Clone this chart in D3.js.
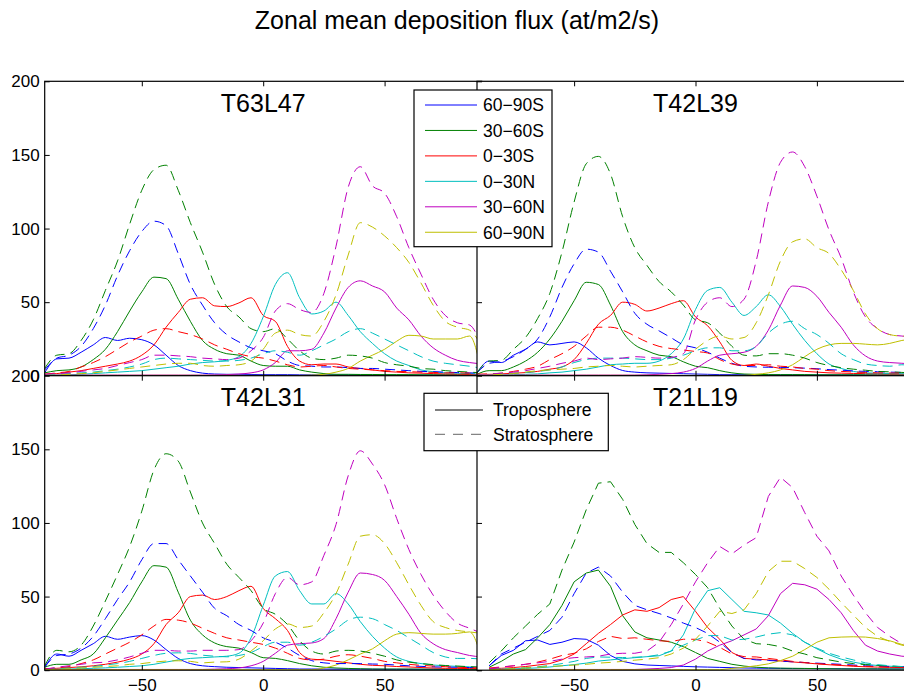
<!DOCTYPE html>
<html>
<head>
<meta charset="utf-8">
<script src="https://cdn.jsdelivr.net/npm/d3@7"></script>
<style>
  body { margin: 0; background: #fff; }
  text { font-family: "Liberation Sans", Arial, Helvetica, sans-serif; }
</style>
</head>
<body>
<svg id="chart" width="904" height="694"></svg>
<script>
// Latitude grid (degrees) shared by every series
const lat = [-90,-85,-80,-75,-70,-65,-60,-55,-50,-45,-40,-35,-30,-25,-20,-15,-10,-5,0,5,10,15,20,25,30,35,40,45,50,55,60,65,70,75,80,85,90];

const regionLabels = ["60\u221290S","30\u221260S","0\u221230S","0\u221230N","30\u221260N","60\u221290N"];
const regionColors = ["#0000ff","#008000","#ff0000","#00bfbf","#bf00bf","#bfbf00"];
const layerLabels = ["Troposphere","Stratosphere"];
const panelTitles = ["T63L47","T42L39","T42L31","T21L19"];
const xTicks = [-50, 0, 50];
const yTicks = [0, 50, 100, 150, 200];
const mainTitle = "Zonal mean deposition flux (at/m2/s)";

// Rows follow regionLabels order: 60-90S, 30-60S, 0-30S, 0-30N, 30-60N, 60-90N
const t63Tropo = [
  [2,11.5,12,16,21,26,24,25.5,24.5,21,14,7,3.5,1.8,1.2,1,1,0.9, 0.8, 0.8,0.8,0.7,0.7,0.7,0.6,0.6,0.6,0.6,0.5,0.5,0.5,0.5,0.5,0.5,0.5,0.5,0.5],
  [2,3.5,4,6,11,18,30,44,57,67,66,52,37,24,18,15,14,10, 7, 6.5,6.5,4,2.5,1.5,1,1,0.9,0.9,0.8,0.8,0.8,0.7,0.7,0.7,0.7,0.7,0.6],
  [1,1.5,2.5,3.5,5,6.5,8,10,14,21,33,43,52,53,47.5,47,49.5,53, 41, 37,20,10,7.5,8,8,6,5,4,3,2.5,2,1.8,1.5,1.3,1.2,1,0.8],
  [0.5,0.5,0.7,1,1.5,2,2.5,3,3.5,4.5,5.5,6.5,8,9,9.5,10.5,13,22, 40, 62,70,53,42,44,50,41,30,22,15,10,7,4,2.8,2,1.8,1.5,1],
  [0.5,0.5,0.5,0.5,0.5,0.5,0.5,0.5,0.5,0.5,0.5,0.5,0.5,0.5,0.6,0.8,1.2,2, 4, 9,17,17,18,29,46,60,64.5,61,57,46,38,27,19,14,10.5,9,8],
  [0.3,0.3,0.3,0.3,0.3,0.3,0.3,0.3,0.3,0.3,0.3,0.3,0.3,0.3,0.3,0.3,0.3,0.3, 0.3, 0.3,0.3,0.3,0.5,1,2.5,5,10,14,18,23.5,27.5,27,25,25,25,27,2]
];
const t63Strat = [
  [4,12,14,20,32,48,68,85,98,105,102,83,62,48,36,28,23,19, 17, 15,10,7,6.5,6,6,5.5,5,5,4.5,4,3.5,3,2.8,2.5,2.2,2,1.8],
  [5,14,15,24,38,58,78,103,126,140,143,126,104,84,62,47,40,32, 30, 32,25,17,12,11,12,14,13.5,12,9,7.5,6.5,5,4.5,3.5,3,2.5,2],
  [1,2,3,6,9,13,18,23,27,31,32,30,28,25,21,18,15,13, 12, 10,7.5,6,6.5,7,6,5,4.5,4,3.5,3,2.8,2.5,2.3,2,2,1.8,1.5],
  [0.5,1,1.5,2,2.5,3.5,4.5,6,8,11,12,11.5,11,10.5,10,10,10.5,12, 15, 17,16,14,17,21,25,30,32,29,25,21,17,13,10,8.5,7.5,6.5,5],
  [1,1.5,2,3,4,5,7,9,11,14,14,13.5,13,12,11.5,11,12,17, 26, 44,49,45,43,56,88,128,142,129,124,108,87,69,52,41,36,34.5,20],
  [0.3,0.5,1,1.5,2,3,4,5,6,7,8,8.5,8.5,7,6.5,7,7.5,10, 18, 29,31,28,27,37,55,82,104,101,95,87,77,63,48,37,33,31,20]
];

const t42l39Tropo = [
  [2,10,9,14,18,23,21,22,23,19,12,7,3.6,2.5,2,1.8,1.6,1.4, 1.2, 1,0.8,0.8,0.8,0.7,0.7,0.7,0.7,0.6,0.6,0.6,0.6,0.6,0.5,0.5,0.5,0.5,0.5],
  [1,3.5,3.5,6,10,16,25,37,51,63.5,62,48,30,21,17,14,13,9.5, 6.5, 5.5,3.5,2,1.2,1,0.8,0.8,0.8,0.8,0.7,0.7,0.7,0.7,0.7,0.6,0.6,0.6,0.6],
  [1,1,1.3,1.7,2.2,3,4.5,6,11,22,35,41,50,48.5,44,46,49,51, 40, 34,23,10.5,7,8,6.5,5,4,3,2.5,2,1.8,1.6,1.5,1.4,1.3,1.2,1],
  [0.5,0.5,0.6,0.8,1,1.3,2,2.5,3.5,4.5,6,7.5,8,8.5,8.5,10,15,25, 45, 58,60,50,41,47,55,47,35,24,15,8,5,3,2,1.8,1.6,1.4,1.3],
  [0.5,0.5,0.5,0.5,0.5,0.5,0.5,0.5,0.5,0.5,0.5,0.5,0.5,0.5,0.7,1,1.5,2.5, 5, 10,14,15,16,20,31,48,61,60,54,43,33,21,13.5,10,9,8.5,8],
  [0.3,0.3,0.3,0.3,0.3,0.3,0.3,0.3,0.3,0.3,0.3,0.3,0.3,0.3,0.3,0.3,0.3,0.3, 0.3, 0.3,0.3,0.3,0.3,1,2,4,7.5,13,18,21,22,22,21.5,21,22,24,25]
];
const t42l39Strat = [
  [2,8.5,9.7,13,18,25,40,60,76,86,84,71,57,42.5,35,30.5,25.8,21, 19, 16,12,8.5,6.5,6,5.8,5.7,5.5,5.2,4.8,4.2,3.8,3.3,3,2.8,2.5,2.3,2],
  [2,10,10.5,18,26,39,56,84,118,144,149,137,108,87,75,64,57,48, 38, 36,29,20,14,13.5,15,15,14,12,9,7,5.5,4.5,3.8,3,2.7,2.3,2],
  [1,1.3,1.8,3,4.5,6.5,11,15,20,27,33,33,31,27,23,20,18.5,17.5, 16.5, 15.5,11,8,7,7,7.5,6.5,6,5,4.5,3.5,3,2.6,2.3,2,1.9,1.8,1.7],
  [0.5,1,1.3,1.7,2.2,3,4,6,9,11,12,12,12,11.5,11,11,12,14, 17, 19,19,17,17,20,29,35,37,32,28,22,15,11,8,7,6.5,7.5,7],
  [0.5,1,1.8,2.5,3.5,5,6.5,8.5,10,12,11,11.5,12,13,12.5,12,12.5,15, 38, 50,53,47,52,78,118,145,152,142,122,99,80,57,40,32,28,27,26],
  [0.3,0.5,1,1.5,2.5,3.5,4,4.5,5,6,6.5,7,6.5,6,6.5,7,7.5,11, 18, 24,27,25,26,36,55,78,91,93,87,83,72,58,42,32,28,27,27]
];

const t42l31Tropo = [
  [2,11,9.5,13.5,18,23,21,22.5,23.5,20.5,14,8,4.5,3,2.4,2,1.8,1.6, 1.4, 1.2,1,0.8,0.8,0.8,0.7,0.7,0.7,0.7,0.6,0.6,0.6,0.6,0.6,0.5,0.5,0.5,0.5],
  [2,4,4,7,11,22,34,46,60,71,70,53,34,24,18.5,16,15,12, 8.5, 8,6.5,4.5,3,2,1.5,1.2,1,0.8,0.8,0.8,0.8,0.7,0.7,0.7,0.7,0.6,0.6],
  [1,1.3,1.8,2.3,3,4,5.5,7.5,11,18,31,39,50,51,48,50,54,57, 42, 35,27,12,7.5,7,6,5,4,3.3,3,2.5,2.2,1.8,1.5,1.3,1.2,1.1,1],
  [0.5,0.6,0.8,1,1.3,1.6,2,2.5,3,4,5.5,7,8,8.5,9,9.5,11.5,22, 44, 64,67,54,45,45,52,45,33,23,15,9,6,4.5,3.5,3,2.6,2.3,2],
  [0.5,0.5,0.5,0.5,0.5,0.5,0.5,0.5,0.5,0.5,0.5,0.5,0.5,0.5,0.7,1,1.5,3, 6, 11.5,17,18,18.5,21.5,35,53,66,65,61,50,38,25,18,14,12,10,9],
  [0.3,0.3,0.3,0.3,0.3,0.3,0.3,0.3,0.3,0.3,0.3,0.3,0.3,0.3,0.3,0.3,0.3,0.3, 0.3, 0.3,0.3,0.3,0.3,1.5,3.5,7,11,14.5,20,24.5,25.5,25,24.5,24.5,25,26,8]
];
const t42l31Strat = [
  [2,10,11,15,23,35,48,60,75,86,86,75,64,53,42,37,31,27, 22, 19,15,10,6.5,5,4.5,4.5,4.5,4.2,4,3.5,3,2.6,2.3,2.1,2,1.8,1.7],
  [3,13.5,12.5,17,30,47,65,84,108,136,147,142,121,100,86,72,63,54, 42, 38,31,20,13,11,13,13.5,13,11.5,9.5,7,5.5,4.5,3.8,3.2,2.8,2.4,2],
  [1,1.5,2.5,4.5,7,11,15,19,24,30,34.5,34,32,28.5,25,22,20.5,19, 17.5, 15,11.5,8,7,7.5,9.5,10.5,9.5,8,6,5,4,3.3,2.8,2.4,2,1.7,1.5],
  [0.5,1,1.5,2,2.5,3.5,4.5,6,8,10,11.5,11.8,11.4,10.2,9.5,9.1,10,12, 16, 19,19,17,19,23,28,34,36,35,31,27,22,17,12,9,8,8,7.5],
  [0.5,2,3,4,5,5.5,7,9,11.5,13.5,13.5,13,13,13.5,13.5,13.5,14,20, 32, 52,63,58,60,78,99,132,149,140,126,103,82,65,51,40,32,28.5,25],
  [0.3,0.5,1,1.5,2,2.5,3,4,4.5,5.5,6.2,6.4,6,5,5.5,5.7,7.5,13, 20, 28,31.5,29,30,39,52,72,91,92,86,73,58,44,33,29,27,26,25]
];

const t21Tropo = [
  [null,3,10,13.5,20,20.5,17.5,19,21.5,21,17,10,6,4.3,3.5,3.2,2.9,2.6, 2.3, 2.1,1.9,1.7,1.5,1.4,1.3,1.2,1.1,1.1,1,1,1,0.9,0.9,0.9,0.8,0.8,0.8],
  [null,2,6,11,14,22,31,44,60,66,68,57,37,26,22,20.5,19,16, 12, 8,6,4,2.8,2,1.6,1.4,1.3,1.2,1.1,1,0.9,0.9,0.9,0.9,0.8,0.8,0.8],
  [null,1.1,1.3,1.8,2.5,3.5,4.5,7,11,18,25,31,37.5,41,40,42.5,48,50, 40, 29,21,12,8,7.5,7,6.3,5.6,5,4.3,3.7,3.2,2.7,2.3,2.1,1.9,1.8,1.7],
  [null,0.5,0.7,0.9,1.2,1.6,2.2,3,3.8,4.8,6.2,7,7.8,8.5,9.2,9.8,13,24, 42, 54,56,48,40,39,37.5,32,25,19,14.5,10.5,7.5,5.5,4,3.2,2.7,2.4,2.2],
  [null,0.5,0.5,0.5,0.5,0.5,0.5,0.5,0.5,0.5,0.5,0.5,0.5,0.5,0.8,1.2,1.8,3.5, 7.5, 13,17,20,24,28,37,52,59,58,55,48,39,27,17,13,11,9.5,9],
  [null,0.3,0.3,0.3,0.3,0.3,0.3,0.3,0.3,0.3,0.3,0.3,0.3,0.3,0.3,0.3,0.3,0.3, 0.3, 0.3,0.3,1.2,2,3,4.3,6.5,9.5,14,19,22,22.5,22.7,22.5,21.5,20,17.5,15]
];
const t21Strat = [
  [null,3,11,15,19,23,27,36,52,66,70,64,53,44,41,38.5,35.5,32, 29, 25,19,12,8,7,6.6,6.2,5.7,5.2,4.8,4.4,4,3.5,3,2.7,2.5,2.3,2.2],
  [null,5,13,22,30,38,45,68,87,109,127,128,116,99,86,80,80,73, 65, 56,42,30,21,18,17.5,16,13,11,8.5,7,5.5,4.5,3.8,3.2,2.8,2.4,2],
  [null,1.5,2.2,3,4,5.5,7.5,10,11.5,14.5,19.5,23,21.5,22,21,20,19.5,21, 21, 19,15.5,11,9.2,9,8,7,6,5.2,4.5,4,3.5,3,2.6,2.3,2.1,1.9,1.8],
  [null,0.5,0.8,1.2,1.7,2.3,3.2,4.5,6,8,9,8.8,8.6,8.8,9.2,10.5,13,17, 20.5, 23.5,23.5,20.5,21,22.5,24.5,25.5,24,19,15,11.5,9,7,5,3.8,3,2.5,2.2],
  [null,1,2,3,4,5,6,7.5,8.5,9,9.5,11,11.5,11.5,13,19,31,45, 60, 73,84,79,85,90,118,131,124,107,91,81,64,51,39,29,23,18,16],
  [null,0.3,0.5,1,1.5,2,2.5,3,3.5,4,4.8,5.3,6,6.8,7.5,8.5,11,15, 21, 30,40,38.5,41,52,67,74,74,69,63,55,46,37.5,29,23,19.5,17,16]
];

// ---- layout ----
const svg = d3.select("#chart");
const PW = 437, PH = 294.5;
const panels = [
  { title: panelTitles[0], tropo: t63Tropo,   strat: t63Strat,   x0: 44.7, y0: 81.3,  yLab: true,  xLab: false, curve: d3.curveMonotoneX },
  { title: panelTitles[1], tropo: t42l39Tropo, strat: t42l39Strat, x0: 477,  y0: 81.3,  yLab: false, xLab: false, curve: d3.curveMonotoneX },
  { title: panelTitles[2], tropo: t42l31Tropo, strat: t42l31Strat, x0: 44.7, y0: 375.7, yLab: true,  xLab: true,  curve: d3.curveMonotoneX },
  { title: panelTitles[3], tropo: t21Tropo,   strat: t21Strat,   x0: 477,  y0: 375.7, yLab: false, xLab: true,  curve: d3.curveLinear }
];

const fmt = d3.format("d");
const FONT = "'Liberation Sans', Arial, Helvetica, sans-serif";

svg.append("rect").attr("width", 904).attr("height", 694).attr("fill", "#fff");

svg.append("text")
  .attr("x", 457).attr("y", 29)
  .attr("text-anchor", "middle")
  .attr("font-size", 25)
  .attr("fill", "#000")
  .text(mainTitle);

panels.forEach((p, i) => {
  const x = d3.scaleLinear().domain([-90, 90]).range([p.x0, p.x0 + PW]);
  const y = d3.scaleLinear().domain([0, 200]).range([p.y0 + PH, p.y0]);
  const g = svg.append("g");

  g.append("rect")
    .attr("x", p.x0).attr("y", p.y0).attr("width", PW).attr("height", PH)
    .attr("fill", "#fff");

  const clipId = "clip" + i;
  g.append("clipPath").attr("id", clipId)
    .append("rect").attr("x", p.x0).attr("y", p.y0).attr("width", PW).attr("height", PH);

  const line = d3.line()
    .defined(d => d[1] != null)
    .x(d => x(d[0]))
    .y(d => y(d[1]))
    .curve(p.curve);

  const plot = g.append("g").attr("clip-path", `url(#${clipId})`);
  [[p.tropo, null], [p.strat, "10,6"]].forEach(([set, dash]) => {
    set.forEach((vals, k) => {
      plot.append("path")
        .datum(lat.map((la, j) => [la, vals[j]]))
        .attr("d", line)
        .attr("fill", "none")
        .attr("stroke", regionColors[k])
        .attr("stroke-width", 1)
        .attr("stroke-dasharray", dash);
    });
  });

  // axes with inward ticks on all four sides
  const axB = g.append("g").attr("transform", `translate(0,${p.y0 + PH})`)
    .call(d3.axisBottom(x).tickValues(xTicks).tickSizeInner(-5).tickSizeOuter(0).tickPadding(9)
      .tickFormat(p.xLab ? fmt : () => ""));
  const axT = g.append("g").attr("transform", `translate(0,${p.y0})`)
    .call(d3.axisTop(x).tickValues(xTicks).tickSizeInner(-5).tickSizeOuter(0).tickFormat(() => ""));
  const axL = g.append("g").attr("transform", `translate(${p.x0},0)`)
    .call(d3.axisLeft(y).tickValues(yTicks).tickSizeInner(-5).tickSizeOuter(0).tickPadding(5)
      .tickFormat(p.yLab ? fmt : () => ""));
  const axR = g.append("g").attr("transform", `translate(${p.x0 + PW},0)`)
    .call(d3.axisRight(y).tickValues(yTicks).tickSizeInner(-5).tickSizeOuter(0).tickFormat(() => ""));
  [axB, axT, axL, axR].forEach(a => {
    a.select(".domain").remove();
    a.attr("font-size", 17).attr("font-family", FONT);
    a.selectAll("line").attr("stroke", "#000");
    a.selectAll("text").attr("fill", "#000");
  });

  g.append("rect")
    .attr("x", p.x0).attr("y", p.y0).attr("width", PW).attr("height", PH)
    .attr("fill", "none").attr("stroke", "#000").attr("stroke-width", 1.2);

  g.append("text")
    .attr("x", p.x0 + PW / 2).attr("y", p.y0 + 30.5)
    .attr("text-anchor", "middle")
    .attr("font-size", 25)
    .attr("fill", "#000")
    .text(p.title);
});

// ---- region legend ----
const leg1 = svg.append("g");
leg1.append("rect")
  .attr("x", 414).attr("y", 90).attr("width", 138).attr("height", 156.7)
  .attr("fill", "#fff").attr("stroke", "#000").attr("stroke-width", 1.2);
const rows1 = leg1.selectAll("g.row").data(regionLabels).join("g")
  .attr("class", "row")
  .attr("transform", (d, i) => `translate(0,${105 + i * 25.45})`);
rows1.append("line")
  .attr("x1", 425).attr("x2", 477).attr("y1", 0).attr("y2", 0)
  .attr("stroke", (d, i) => regionColors[i]).attr("stroke-width", 1);
rows1.append("text")
  .attr("x", 483).attr("y", 0).attr("dy", "0.36em")
  .attr("font-size", 17.5).attr("fill", "#000")
  .text(d => d);

// ---- layer legend ----
const leg2 = svg.append("g");
leg2.append("rect")
  .attr("x", 424).attr("y", 393.3).attr("width", 184.3).attr("height", 57.4)
  .attr("fill", "#fff").attr("stroke", "#000").attr("stroke-width", 1.2);
const rows2 = leg2.selectAll("g.row").data(layerLabels).join("g")
  .attr("class", "row")
  .attr("transform", (d, i) => `translate(0,${410 + i * 24.3})`);
rows2.append("line")
  .attr("x1", 435).attr("x2", 483).attr("y1", 0).attr("y2", 0)
  .attr("stroke", (d, i) => i === 0 ? "#000" : "#666")
  .attr("stroke-width", 1)
  .attr("stroke-dasharray", (d, i) => i === 0 ? null : "10,8");
rows2.append("text")
  .attr("x", 493).attr("y", 0).attr("dy", "0.36em")
  .attr("font-size", 17.5).attr("fill", "#000")
  .text(d => d);
</script>
</body>
</html>
